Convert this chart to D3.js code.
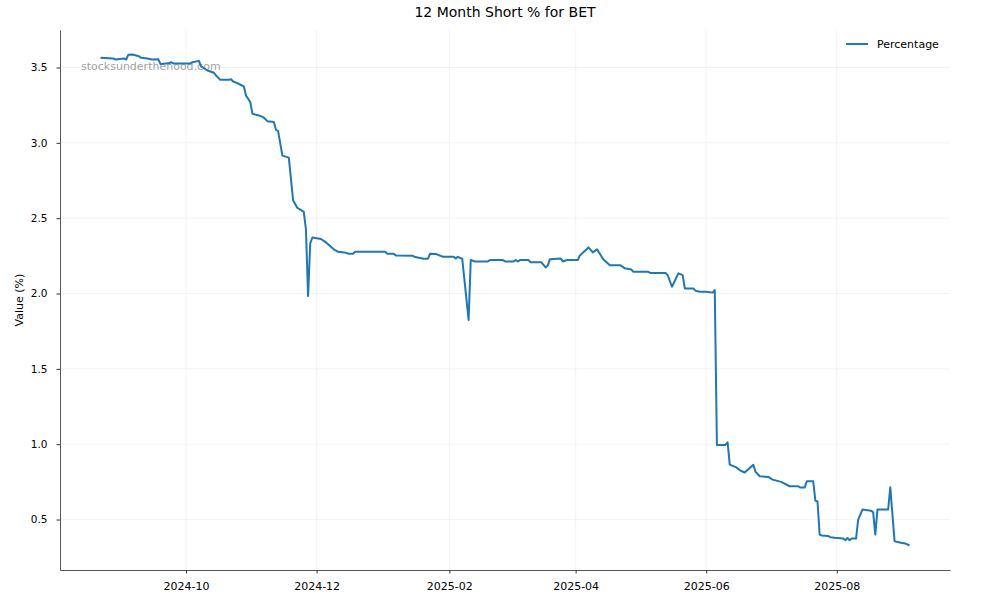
<!DOCTYPE html>
<html>
<head>
<meta charset="utf-8">
<script src="https://cdn.jsdelivr.net/npm/d3@7"></script>
<style>
  html, body { margin: 0; padding: 0; background: #fff; }
  svg { display: block; font-family: "DejaVu Sans", sans-serif; }
</style>
</head>
<body>
<svg id="chart" width="1000" height="600"></svg>
<script>
const title = "12 Month Short % for BET";
const yLabel = "Value (%)";
const seriesName = "Percentage";
const watermark = "stocksunderthehood.com";

const dates = [
  "2024-08-22","2024-08-28","2024-08-29","2024-09-02","2024-09-03","2024-09-04","2024-09-06","2024-09-09","2024-09-10","2024-09-13",
  "2024-09-15","2024-09-18","2024-09-19","2024-09-23","2024-09-24","2024-09-25","2024-10-03","2024-10-04","2024-10-07","2024-10-08",
  "2024-10-11","2024-10-14","2024-10-15","2024-10-17","2024-10-21","2024-10-22","2024-10-23","2024-10-25","2024-10-28","2024-10-29",
  "2024-10-31","2024-11-01","2024-11-04","2024-11-06","2024-11-08","2024-11-11","2024-11-12","2024-11-13","2024-11-15","2024-11-18",
  "2024-11-20","2024-11-22","2024-11-25","2024-11-26","2024-11-27","2024-11-28","2024-11-29","2024-12-03","2024-12-05","2024-12-09",
  "2024-12-11","2024-12-14","2024-12-16","2024-12-18","2024-12-19","2025-01-02","2025-01-03","2025-01-06","2025-01-07","2025-01-15",
  "2025-01-16","2025-01-20","2025-01-22","2025-01-23","2025-01-26","2025-01-27","2025-01-29","2025-02-03","2025-02-04","2025-02-05",
  "2025-02-06","2025-02-07","2025-02-10","2025-02-11","2025-02-13","2025-02-19","2025-02-20","2025-02-26","2025-02-27","2025-03-03",
  "2025-03-04","2025-03-05","2025-03-06","2025-03-10","2025-03-11","2025-03-16","2025-03-18","2025-03-19","2025-03-20","2025-03-25",
  "2025-03-26","2025-03-28","2025-04-02","2025-04-03","2025-04-07","2025-04-09","2025-04-11","2025-04-14","2025-04-17","2025-04-22",
  "2025-04-24","2025-04-27","2025-04-28","2025-05-05","2025-05-06","2025-05-13","2025-05-14","2025-05-16","2025-05-19","2025-05-21",
  "2025-05-22","2025-05-26","2025-05-27","2025-05-29","2025-06-01","2025-06-04","2025-06-05","2025-06-06","2025-06-10","2025-06-11",
  "2025-06-12","2025-06-15","2025-06-17","2025-06-19","2025-06-23","2025-06-24","2025-06-26","2025-06-30","2025-07-02","2025-07-06",
  "2025-07-10","2025-07-14","2025-07-15","2025-07-17","2025-07-18","2025-07-21","2025-07-22","2025-07-23","2025-07-24","2025-07-25",
  "2025-07-28","2025-07-29","2025-07-31","2025-08-04","2025-08-05","2025-08-06","2025-08-07","2025-08-08","2025-08-10","2025-08-11",
  "2025-08-13","2025-08-17","2025-08-18","2025-08-19","2025-08-20","2025-08-25","2025-08-26","2025-08-28","2025-08-29","2025-08-31",
  "2025-09-02","2025-09-04"
];

const values = [
  3.564,3.560,3.553,3.560,3.553,3.584,3.586,3.575,3.564,3.560,
  3.553,3.555,3.524,3.528,3.535,3.527,3.527,3.535,3.544,3.507,
  3.480,3.465,3.447,3.418,3.418,3.422,3.407,3.396,3.374,3.314,
  3.270,3.193,3.182,3.171,3.144,3.138,3.087,3.078,2.915,2.902,
  2.619,2.568,2.542,2.425,1.983,2.332,2.372,2.362,2.343,2.293,
  2.277,2.273,2.264,2.264,2.277,2.277,2.264,2.264,2.253,2.250,
  2.242,2.231,2.231,2.264,2.262,2.255,2.244,2.244,2.233,2.244,
  2.236,2.233,1.825,2.222,2.213,2.213,2.222,2.222,2.213,2.213,
  2.222,2.213,2.222,2.222,2.207,2.207,2.173,2.187,2.228,2.233,
  2.213,2.222,2.222,2.253,2.306,2.273,2.293,2.226,2.187,2.187,
  2.167,2.160,2.144,2.144,2.136,2.136,2.122,2.045,2.134,2.122,
  2.034,2.033,2.019,2.012,2.012,2.006,2.023,0.995,0.995,1.012,
  0.864,0.846,0.825,0.812,0.864,0.818,0.787,0.783,0.765,0.750,
  0.721,0.721,0.712,0.712,0.754,0.754,0.626,0.620,0.400,0.394,
  0.390,0.383,0.379,0.374,0.363,0.377,0.363,0.374,0.374,0.500,
  0.566,0.559,0.548,0.400,0.566,0.566,0.714,0.357,0.352,0.346,
  0.341,0.328
];

const yTicks = [0.5, 1.0, 1.5, 2.0, 2.5, 3.0, 3.5];
const xTickDates = ["2024-10-01","2024-12-01","2025-02-01","2025-04-01","2025-06-01","2025-08-01"];

const parse = d3.timeParse("%Y-%m-%d");
const data = dates.map((d, i) => ({ date: parse(d), value: values[i] }));

const W = 1000, H = 600;
const m = { left: 60, right: 50, top: 30, bottom: 30 };
const svg = d3.select("#chart");

// matplotlib-like 5% margins
const xExt = d3.extent(data, d => d.date);
const xPad = (xExt[1] - xExt[0]) * 0.05;
const yExt = d3.extent(data, d => d.value);
const yPad = (yExt[1] - yExt[0]) * 0.05;

const x = d3.scaleTime()
  .domain([new Date(+xExt[0] - xPad), new Date(+xExt[1] + xPad)])
  .range([m.left, W - m.right]);
const y = d3.scaleLinear()
  .domain([yExt[0] - yPad, yExt[1] + yPad])
  .range([H - m.bottom, m.top]);

const xTickVals = xTickDates.map(parse);

// grid
const grid = svg.append("g");
grid.selectAll(".gy").data(yTicks).enter().append("line")
  .attr("x1", m.left).attr("x2", W - m.right)
  .attr("y1", d => y(d)).attr("y2", d => y(d))
  .attr("stroke", "#b0b0b0").attr("stroke-opacity", 0.2).attr("stroke-width", 0.8);
grid.selectAll(".gx").data(xTickVals).enter().append("line")
  .attr("x1", d => x(d)).attr("x2", d => x(d))
  .attr("y1", m.top).attr("y2", H - m.bottom)
  .attr("stroke", "#b0b0b0").attr("stroke-opacity", 0.2).attr("stroke-width", 0.8);

// watermark
svg.append("text")
  .attr("x", 81).attr("y", 70)
  .attr("font-size", 11).attr("fill", "#808080").attr("fill-opacity", 0.75)
  .text(watermark);

// line
svg.append("path")
  .datum(data)
  .attr("fill", "none")
  .attr("stroke", "#1f77b4")
  .attr("stroke-width", 2)
  .attr("stroke-linejoin", "round")
  .attr("d", d3.line().x(d => x(d.date)).y(d => y(d.value)));

// axes
const xAxis = svg.append("g")
  .attr("transform", `translate(0,${H - m.bottom})`)
  .call(d3.axisBottom(x).tickValues(xTickVals).tickFormat(d3.timeFormat("%Y-%m"))
    .tickSize(3.5).tickSizeOuter(0).tickPadding(9));
const yAxis = svg.append("g")
  .attr("transform", `translate(${m.left},0)`)
  .call(d3.axisLeft(y).tickValues(yTicks).tickFormat(d3.format(".1f"))
    .tickSize(3.5).tickSizeOuter(0).tickPadding(9));

[xAxis, yAxis].forEach(a => {
  a.select(".domain").attr("stroke", "#555").attr("stroke-width", 1);
  a.selectAll(".tick line").attr("stroke", "#333").attr("stroke-width", 1);
  a.selectAll(".tick text").attr("fill", "#000")
    .attr("font-family", "DejaVu Sans, sans-serif");
});
xAxis.selectAll(".tick text").attr("font-size", 11);
yAxis.selectAll(".tick text").attr("font-size", 10.5);

// title
svg.append("text")
  .attr("x", (m.left + W - m.right) / 2).attr("y", 17)
  .attr("text-anchor", "middle").attr("font-size", 14).attr("fill", "#000")
  .text(title);

// y label
svg.append("text")
  .attr("transform", `translate(23,${(m.top + H - m.bottom) / 2}) rotate(-90)`)
  .attr("text-anchor", "middle").attr("font-size", 11).attr("fill", "#000")
  .text(yLabel);

// legend
const lg = svg.append("g").attr("transform", "translate(846,44)");
lg.append("line").attr("x1", 0).attr("x2", 22).attr("y1", 0).attr("y2", 0)
  .attr("stroke", "#1f77b4").attr("stroke-width", 2);
lg.append("text").attr("x", 31).attr("y", 4).attr("font-size", 11).attr("fill", "#000")
  .text(seriesName);
</script>
</body>
</html>
